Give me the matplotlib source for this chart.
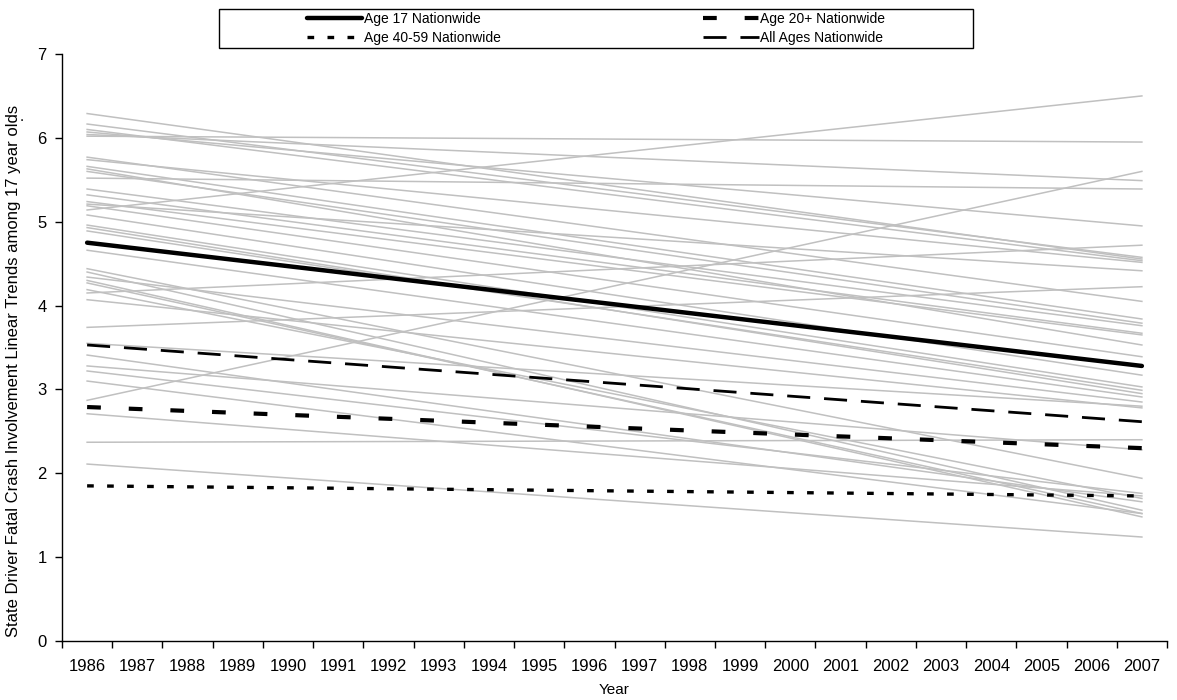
import matplotlib
matplotlib.use("Agg")
import matplotlib.pyplot as plt
from matplotlib.patches import Rectangle
import numpy as np

plt.rcParams['font.family'] = ['Liberation Sans', 'DejaVu Sans']

years = list(range(1986, 2008))
trend_years = [1986, 2007]

# State linear trends: value at 1986 and at 2007
state_start = [6.29, 6.165, 6.10, 6.07, 6.04, 6.02, 5.77, 5.74, 5.66, 5.63,
               5.60, 5.52, 5.39, 5.32, 5.24, 5.21, 5.19, 5.14, 5.08, 4.96,
               4.93, 4.89, 4.66, 4.44, 4.40, 4.34, 4.30, 4.27, 4.19, 4.15,
               4.07, 3.74, 3.55, 3.41, 3.28, 3.22, 3.10, 2.87, 2.71, 2.37, 2.11]
state_end = [4.555, 4.575, 4.535, 4.95, 5.49, 5.95, 4.05, 4.515, 3.84, 3.53,
             3.79, 5.39, 3.76, 3.67, 3.65, 4.415, 3.39, 6.50, 3.17, 3.03,
             2.95, 2.99, 2.91, 1.94, 1.56, 2.85, 1.48, 1.52, 1.70, 4.72,
             2.78, 4.225, 2.80, 1.66, 2.28, 1.76, 1.52, 5.60, 1.73, 2.40, 1.24]

# Nationwide trends (1986, 2007)
age17 = [4.75, 3.28]
age20plus = [2.79, 2.30]
age40_59 = [1.85, 1.73]
all_ages = [3.53, 2.615]

fig = plt.figure(figsize=(11.77, 7.0), dpi=100)
W, H = 1177, 700
ax = fig.add_axes([62 / W, 1 - 641 / H, (1167 - 62) / W, (641 - 54) / H])

for s, e in zip(state_start, state_end):
    ax.plot(trend_years, [s, e], color='#c0c0c0', lw=1.1, zorder=1)

l1, = ax.plot(trend_years, age17, color='black', lw=3.2, solid_capstyle='round', zorder=3)
l2, = ax.plot(trend_years, age20plus, color='black', lw=3.0, dashes=(3.3, 6.7), zorder=3)
l3, = ax.plot(trend_years, age40_59, color='black', lw=2.4, dashes=(2.0, 4.0), zorder=3)
l4, = ax.plot(trend_years, all_ages, color='black', lw=2.0, dashes=(8.3, 5.0), zorder=3)

ax.set_xlim(1985.5, 2007.5)
ax.set_ylim(0, 7)
ax.set_xticks(years)
ax.set_xticklabels([str(y) for y in years])
ax.set_xticks([y - 0.5 for y in years] + [2007.5], minor=True)
ax.tick_params(axis='x', which='major', length=0, pad=13, labelsize=12)
ax.tick_params(axis='x', which='minor', length=5, width=1, direction='out')
ax.set_yticks(range(0, 8))
ax.tick_params(axis='y', which='major', length=5, width=1, pad=6, labelsize=12)
for sp in ['top', 'right']:
    ax.spines[sp].set_visible(False)
for sp in ['left', 'bottom']:
    ax.spines[sp].set_linewidth(1.0)

ax.set_xlabel('Year', fontsize=11)
ax.xaxis.set_label_coords(0.5, (641 - 683) / 587)
ax.set_ylabel('State Driver Fatal Crash Involvement Linear Trends among 17 year olds',
              fontsize=12)
ax.yaxis.set_label_coords((21 - 62) / 1105, (641 - 371) / 587)
fig.text(22 / W, 1 - 117 / H, '.', fontsize=11, ha='center', va='center')

# Legend box
fig.patches.append(Rectangle((219 / W, 1 - 48 / H), (973 - 219) / W, (48 - 9) / H,
                             transform=fig.transFigure, fill=False, lw=1.0,
                             edgecolor='black'))
handles = [l1, l3, l2, l4]
labels = ['Age 17 Nationwide', 'Age 40-59 Nationwide', 'Age 20+ Nationwide', 'All Ages Nationwide']
fig.legend(handles, labels, loc='center', bbox_to_anchor=(596 / W, 1 - 28.5 / H),
           ncol=2, frameon=False, fontsize=10, handlelength=4.0, handletextpad=0.1,
           columnspacing=14.6, labelspacing=0.35, borderpad=0)

fig.savefig('out.png', dpi=100)
